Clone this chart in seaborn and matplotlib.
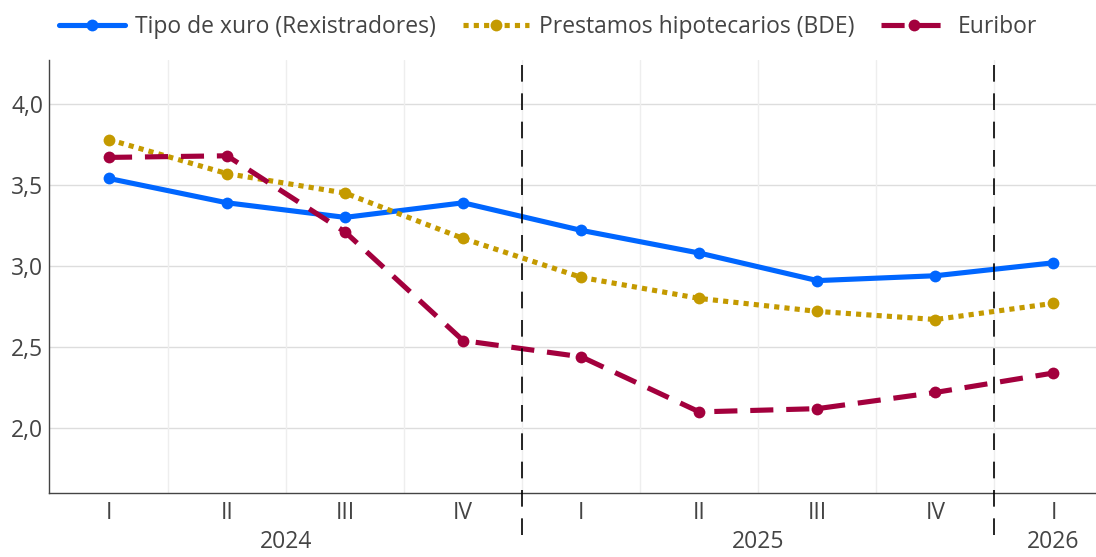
import numpy as np
import pandas as pd
import matplotlib
matplotlib.use("Agg")
import matplotlib.pyplot as plt
import matplotlib.transforms as mtransforms
import seaborn as sns

# Data
quarters = ["I", "II", "III", "IV", "I", "II", "III", "IV", "I"]
years = ["2024", "2025", "2026"]
year_centers = [1.5, 5.5, 8]
tipo_xuro = [3.54, 3.39, 3.30, 3.39, 3.22, 3.08, 2.91, 2.94, 3.02]
prestamos = [3.78, 3.57, 3.45, 3.17, 2.93, 2.80, 2.72, 2.67, 2.77]
euribor = [3.67, 3.68, 3.21, 2.54, 2.44, 2.10, 2.12, 2.22, 2.34]
y_ticks = [2.0, 2.5, 3.0, 3.5, 4.0]
year_breaks = [3.5, 7.5]

sns.set_style("white")
plt.rcParams['font.family'] = ['Open Sans', 'DejaVu Sans']
text_color = "#444444"
fs = 16.5

x = np.arange(len(quarters))
df = pd.DataFrame({"x": x, "tipo": tipo_xuro, "prest": prestamos, "eur": euribor})

fig = plt.figure(figsize=(10.96, 5.57), dpi=100)
ax = fig.add_axes([0.0447, 0.115, 0.9553, 0.777])

# grid
for yt in y_ticks:
    ax.axhline(yt, color="#dddddd", lw=1, zorder=0)
for b in np.arange(0.5, 8, 1.0):
    ax.axvline(b, color="#eeeeee", lw=1, zorder=0)

sns.lineplot(data=df, x="x", y="tipo", ax=ax, color="#0066ff", lw=3.7,
             marker="o", markersize=8.5, markeredgewidth=0,
             label="Tipo de xuro (Rexistradores)", zorder=3)
sns.lineplot(data=df, x="x", y="prest", ax=ax, color="#c49a00", lw=3.7,
             linestyle=(0, (1, 1)), marker="o", markersize=8.5, markeredgewidth=0,
             label="Prestamos hipotecarios (BDE)", zorder=3)
sns.lineplot(data=df, x="x", y="eur", ax=ax, color="#a3003d", lw=3.7,
             linestyle=(0, (4.5, 2.5)), marker="o", markersize=8.5, markeredgewidth=0,
             label="Euribor", zorder=3)

# year separators
for b in year_breaks:
    ax.axvline(b, ymin=-0.097, ymax=1, color="black", lw=1.2,
               linestyle=(0, (10, 7)), clip_on=False, zorder=4)

ax.set_xlim(-0.508, 8.36)
ax.set_ylim(1.6, 4.27)
ax.set_yticks(y_ticks)
ax.set_yticklabels([f"{v:.1f}".replace(".", ",") for v in y_ticks])
ax.set_xticks(x)
ax.set_xticklabels(quarters)
ax.set_xticks(np.arange(0.5, 8, 1.0), minor=True)
ax.tick_params(axis="x", which="major", length=0, pad=6, labelsize=fs, colors=text_color)
ax.tick_params(axis="x", which="minor", length=4, direction="in", color="#999999", width=1)
ax.tick_params(axis="y", length=0, pad=4, labelsize=fs, colors=text_color)
ax.set_xlabel("")
ax.set_ylabel("")

for s in ["top", "right"]:
    ax.spines[s].set_visible(False)
for s in ["left", "bottom"]:
    ax.spines[s].set_color(text_color)
    ax.spines[s].set_linewidth(1)

trans = mtransforms.blended_transform_factory(ax.transData, fig.transFigure)
for yr, xc in zip(years, year_centers):
    ax.text(xc, 0.006, yr, transform=trans, ha="center", va="bottom",
            fontsize=fs, color=text_color)

ax.legend(loc="upper center", bbox_to_anchor=(0.5, 1.01), bbox_transform=fig.transFigure,
          ncol=3, frameon=False, fontsize=fs, handlelength=2.9, columnspacing=1.15,
          handletextpad=0.45, labelcolor=text_color)

fig.savefig("out.png", dpi=100)
